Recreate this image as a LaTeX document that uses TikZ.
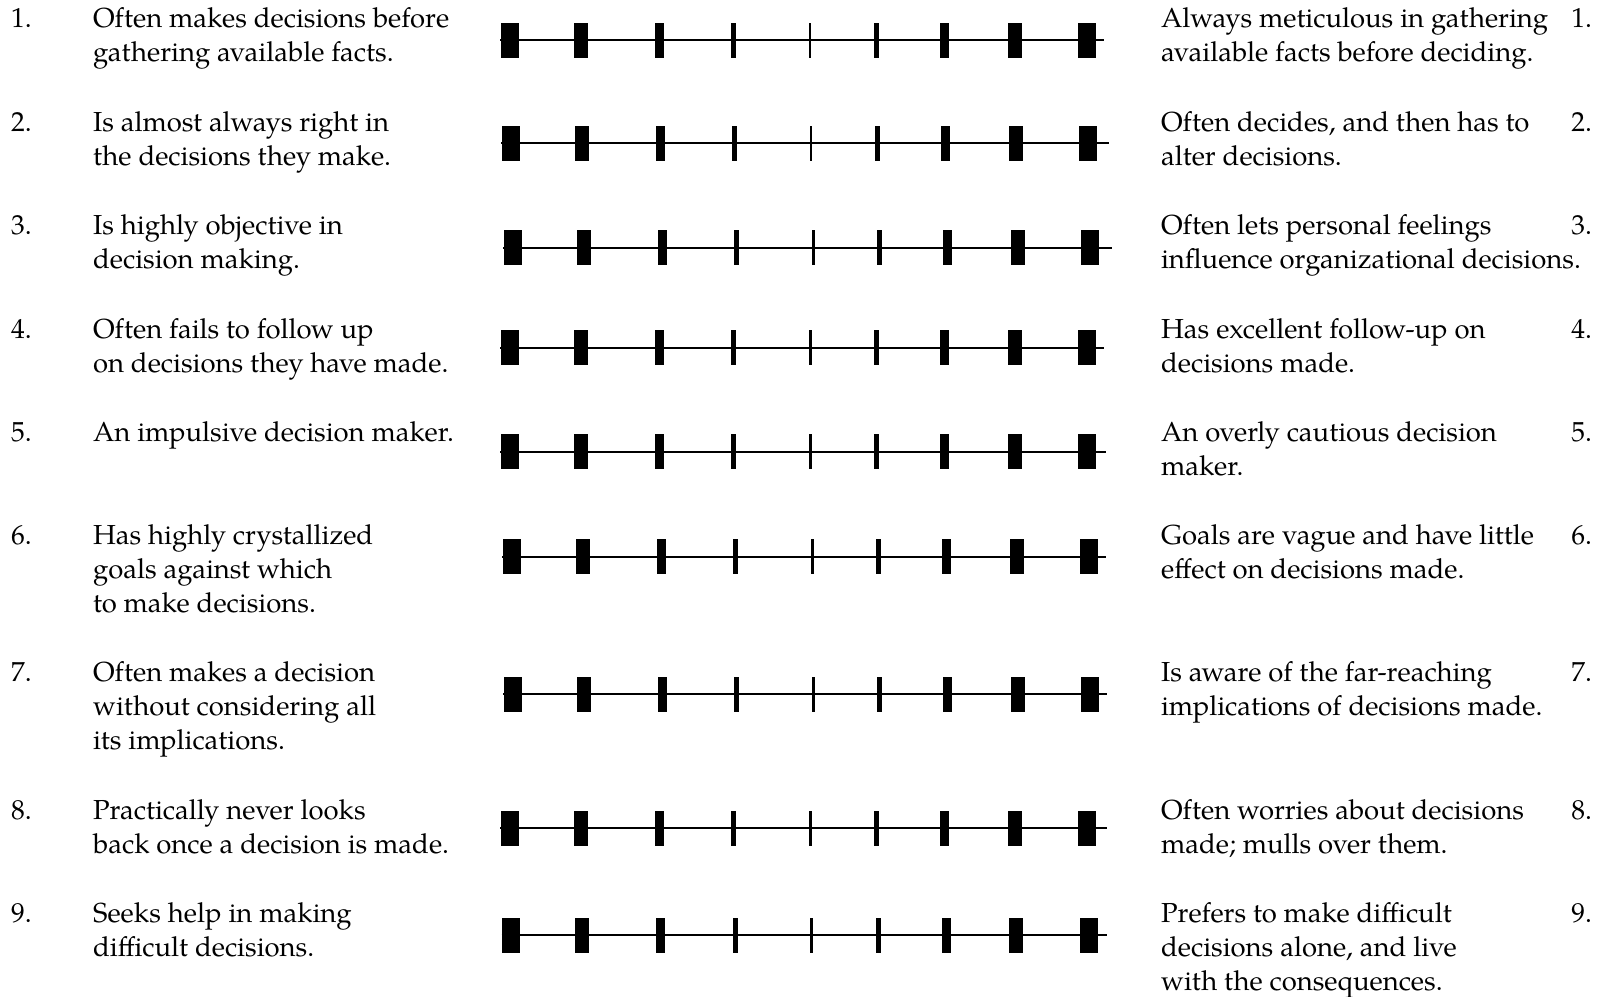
\documentclass[tikz,border=0pt]{standalone}
\usepackage{fontspec}
\setmainfont{texgyrepagella-regular.otf}

\begin{document}
\begin{tikzpicture}[x=0.025cm, y=-0.025cm, line width=1.56pt,
    txt/.style={anchor=base west, align=left, inner sep=0pt, font=\fontsize{19.55}{24.3}\selectfont},
    numr/.style={anchor=base east, inner sep=0pt, font=\fontsize{19.55}{24.3}\selectfont},
    lines2/.style={yshift=-0.8575cm}, lines3/.style={yshift=-1.715cm}]
  \useasboundingbox (0,0) rectangle (1606,996);
  % rating bars
  \foreach \r/\y/\dx/\de in {1/40/0/1104, 2/143.3/1/1109, 3/247.7/3.3/1112, 4/347.7/0.3/1104, 5/451.7/0.3/1106, 6/556.7/2.3/1106, 7/694.3/3.3/1107, 8/828.3/0.3/1107, 9/935/1.7/1107}{
    \coordinate (b\r s) at (500+\dx,\y); \coordinate (b\r e) at (\de,\y);
    \draw (b\r s) -- (b\r e);
    \foreach \x/\w in {509.5/18, 580.5/14, 659/9, 733.5/5, 810/2.5, 876.5/5, 944.5/9, 1014.5/14, 1087/18}
      \fill ({\x+\dx-\w/2},{\y-17.5}) rectangle ({\x+\dx+\w/2},{\y+17.5});
  }
  % left column (base anchor sits on the last line)
  \node[txt] (nL1) at (10,27) {1.};
  \node[txt, lines2] (tL1) at (92,27) {Often makes decisions before\\gathering available facts.};
  \node[txt] (nL2) at (10,131) {2.};
  \node[txt, lines2] (tL2) at (92,131) {Is almost always right in\\the decisions they make.};
  \node[txt] (nL3) at (10,234) {3.};
  \node[txt, lines2] (tL3) at (92,234) {Is highly objective in\\decision making.};
  \node[txt] (nL4) at (10,338) {4.};
  \node[txt, lines2] (tL4) at (92,338) {Often fails to follow up\\on decisions they have made.};
  \node[txt] (nL5) at (10,441) {5.};
  \node[txt] (tL5) at (92,441) {An impulsive decision maker.};
  \node[txt] (nL6) at (10,544) {6.};
  \node[txt, lines3] (tL6) at (92,544) {Has highly crystallized\\goals against which\\to make decisions.};
  \node[txt] (nL7) at (10,681) {7.};
  \node[txt, lines3] (tL7) at (92,681) {Often makes a decision\\without considering all\\its implications.};
  \node[txt] (nL8) at (10,819) {8.};
  \node[txt, lines2] (tL8) at (92,819) {Practically never looks\\back once a decision is made.};
  \node[txt] (nL9) at (10,922) {9.};
  \node[txt, lines2] (tL9) at (92,922) {Seeks help in making\\difficult decisions.};
  % right column
  \node[txt, lines2] (tR1) at (1160,27) {Always meticulous in gathering\\available facts before deciding.};
  \node[numr] (nR1) at (1593,27) {1.};
  \node[txt, lines2] (tR2) at (1160,131) {Often decides, and then has to\\alter decisions.};
  \node[numr] (nR2) at (1593,131) {2.};
  \node[txt, lines2] (tR3) at (1160,234) {Often lets personal feelings\\influence organizational decisions.};
  \node[numr] (nR3) at (1593,234) {3.};
  \node[txt, lines2] (tR4) at (1160,338) {Has excellent follow-up on\\decisions made.};
  \node[numr] (nR4) at (1593,338) {4.};
  \node[txt, lines2] (tR5) at (1160,441) {An overly cautious decision\\maker.};
  \node[numr] (nR5) at (1593,441) {5.};
  \node[txt, lines2] (tR6) at (1160,544) {Goals are vague and have little\\effect on decisions made.};
  \node[numr] (nR6) at (1593,544) {6.};
  \node[txt, lines2] (tR7) at (1160,681) {Is aware of the far-reaching\\implications of decisions made.};
  \node[numr] (nR7) at (1593,681) {7.};
  \node[txt, lines2] (tR8) at (1160,819) {Often worries about decisions\\made; mulls over them.};
  \node[numr] (nR8) at (1593,819) {8.};
  \node[txt, lines3] (tR9) at (1160,922) {Prefers to make difficult\\decisions alone, and live\\with the consequences.};
  \node[numr] (nR9) at (1593,922) {9.};
\end{tikzpicture}
\end{document}
